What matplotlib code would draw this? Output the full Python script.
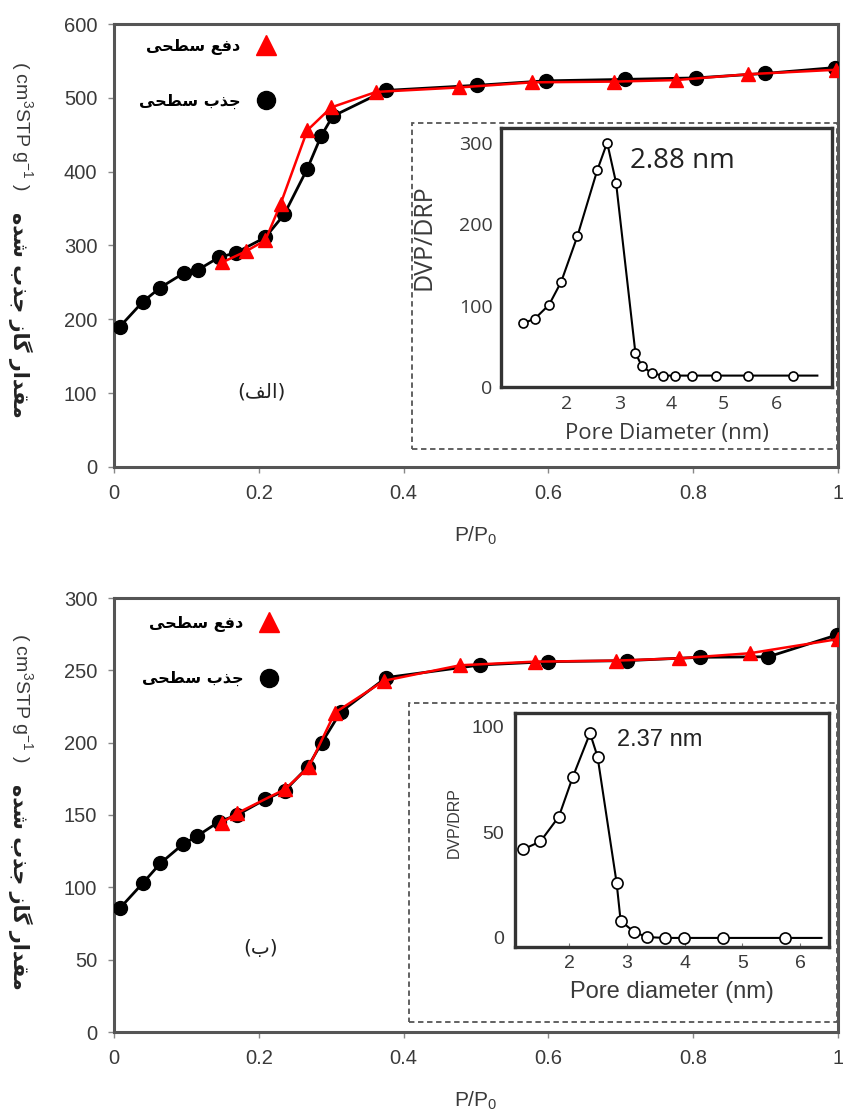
import matplotlib
matplotlib.use("Agg")
import matplotlib.pyplot as plt
from matplotlib.lines import Line2D
from matplotlib.patches import Rectangle

# ---------------- data ----------------
top_ads_x = [0.008, 0.04, 0.064, 0.097, 0.116, 0.145, 0.168, 0.209, 0.235, 0.267, 0.286, 0.302,
             0.375, 0.502, 0.596, 0.706, 0.804, 0.899, 0.996]
top_ads_y = [190, 224, 243, 263, 267, 284, 290, 311, 342, 404, 448, 475,
             510, 517, 523, 525, 527, 533, 541]
top_des_x = [0.149, 0.182, 0.209, 0.23, 0.267, 0.30, 0.362, 0.476, 0.578, 0.691, 0.776, 0.876, 0.997]
top_des_y = [277, 292, 307, 356, 456, 487, 508, 514, 521, 522, 524, 532, 538]

bot_ads_x = [0.008, 0.04, 0.064, 0.095, 0.115, 0.145, 0.17, 0.209, 0.236, 0.268, 0.287, 0.313,
             0.376, 0.506, 0.6, 0.708, 0.809, 0.904, 0.998]
bot_ads_y = [85.5, 103, 116.6, 129.7, 135.5, 145.4, 150, 160.8, 166.8, 183.4, 200, 221.2,
             245, 253.7, 256, 256.7, 259, 259.4, 274.4]
bot_des_x = [0.149, 0.17, 0.236, 0.269, 0.305, 0.373, 0.478, 0.581, 0.693, 0.781, 0.878, 1.0]
bot_des_y = [144.7, 151.2, 167.8, 183, 220.7, 242.8, 253.5, 256, 256.7, 258.3, 261.8, 271.6]

psd1_x = [1.16, 1.39, 1.66, 1.89, 2.20, 2.58, 2.77, 2.94, 3.31, 3.43, 3.62, 3.84, 4.07, 4.39,
          4.85, 5.47, 6.33, 6.79]
psd1_y = [78, 84, 101, 129, 185, 266, 300, 251, 42, 26, 17, 14, 14, 14, 14, 14, 14, 14]
psd2_x = [1.20, 1.50, 1.82, 2.06, 2.36, 2.49, 2.82, 2.89, 3.13, 3.35, 3.66, 3.99, 4.66, 5.74, 6.37]
psd2_y = [42, 45.7, 57.5, 76.2, 97, 85.9, 26.2, 8.1, 2.7, 0.4, 0, 0, 0, 0, 0]

top_yticks = [0, 100, 200, 300, 400, 500, 600]
bot_yticks = [0, 50, 100, 150, 200, 250, 300]
main_xticks = [0, 0.2, 0.4, 0.6, 0.8, 1.0]
main_xticklabels = ["0", "0.2", "0.4", "0.6", "0.8", "1"]
psd1_yticks = [0, 100, 200, 300]
psd2_yticks = [0, 50, 100]
psd_xticks = [2, 3, 4, 5, 6]

lbl_des = "دفع سطحی"
lbl_ads = "جذب سطحی"
ylab_fa = "مقدار گاز جذب شده"
panel_a = "(الف)"
panel_b = "(ب)"
peak1 = "2.88 nm"
peak2 = "2.37 nm"

# ---------------- minimal Persian shaping (presentation forms, visual order) ----------------
FORMS = {
    'ا': ('\uFE8D', '\uFE8E', None, None),
    'ب': ('\uFE8F', '\uFE90', '\uFE91', '\uFE92'),
    'ج': ('\uFE9D', '\uFE9E', '\uFE9F', '\uFEA0'),
    'ح': ('\uFEA1', '\uFEA2', '\uFEA3', '\uFEA4'),
    'د': ('\uFEA9', '\uFEAA', None, None),
    'ذ': ('\uFEAB', '\uFEAC', None, None),
    'ر': ('\uFEAD', '\uFEAE', None, None),
    'ز': ('\uFEAF', '\uFEB0', None, None),
    'س': ('\uFEB1', '\uFEB2', '\uFEB3', '\uFEB4'),
    'ش': ('\uFEB5', '\uFEB6', '\uFEB7', '\uFEB8'),
    'ط': ('\uFEC1', '\uFEC2', '\uFEC3', '\uFEC4'),
    'ع': ('\uFEC9', '\uFECA', '\uFECB', '\uFECC'),
    'ف': ('\uFED1', '\uFED2', '\uFED3', '\uFED4'),
    'ق': ('\uFED5', '\uFED6', '\uFED7', '\uFED8'),
    'ل': ('\uFEDD', '\uFEDE', '\uFEDF', '\uFEE0'),
    'م': ('\uFEE1', '\uFEE2', '\uFEE3', '\uFEE4'),
    'ه': ('\uFEE9', '\uFEEA', '\uFEEB', '\uFEEC'),
    'ی': ('\uFEEF', '\uFEF0', '\uFEF3', '\uFEF4'),
    'گ': ('\uFB92', '\uFB93', '\uFB94', '\uFB95'),
}
MIRROR = {'(': ')', ')': '('}


def shape(s):
    out = []
    for i, c in enumerate(s):
        if c not in FORMS:
            out.append(MIRROR.get(c, c))
            continue
        f = FORMS[c]
        prev = s[i - 1] if i > 0 else None
        nxt = s[i + 1] if i + 1 < len(s) else None
        jp = prev in FORMS and FORMS[prev][2] is not None
        jn = nxt in FORMS and f[2] is not None
        if jp and jn:
            g = f[3]
        elif jp:
            g = f[1]
        elif jn:
            g = f[2]
        else:
            g = f[0]
        out.append(g)
    return ''.join(reversed(out))


# ---------------- figure ----------------
plt.rcParams['font.family'] = ['Liberation Sans', 'DejaVu Sans']
plt.rcParams['mathtext.fontset'] = 'custom'
plt.rcParams['mathtext.rm'] = 'Liberation Sans'
plt.rcParams['mathtext.it'] = 'Liberation Sans:italic'

W, H = 843, 1110
fig = plt.figure(figsize=(W / 100, H / 100), dpi=100)


def px_axes(l, t, r, b):
    return fig.add_axes([l / W, 1 - b / H, (r - l) / W, (b - t) / H])


def dashed_box(l, t, r, b):
    fig.patches.append(Rectangle((l / W, 1 - b / H), (r - l) / W, (b - t) / H,
                                 transform=fig.transFigure, fill=False,
                                 ls=(0, (3, 2)), ec='#555555', lw=1.3, zorder=5))


TXT = '#3a3a3a'
FA = ['DejaVu Sans']


def main_panel(ax, ax_x, ax_y, de_x, de_y, yticks, ymax, panel_txt, panel_xy, leg_anchor):
    ax.plot(ax_x, ax_y, '-o', color='black', lw=2.0, ms=10, zorder=3)
    ax.plot(de_x, de_y, '-^', color='#ff0000', mec='#ff0000', lw=1.8, ms=10.5, zorder=4)
    ax.set_xlim(0, 1)
    ax.set_ylim(0, ymax)
    ax.set_xticks(main_xticks)
    ax.set_xticklabels(main_xticklabels)
    ax.set_yticks(yticks)
    for sp in ax.spines.values():
        sp.set_color('#555555')
        sp.set_linewidth(2.2)
    ax.tick_params(direction='out', length=4, width=1, color='#888888', labelsize=14.5,
                   labelcolor=TXT, pad=8)
    ax.set_xlabel('P/P$_0$', fontsize=15, color=TXT, labelpad=16)
    ax.text(panel_xy[0], panel_xy[1], shape(panel_txt), fontsize=14.5, family=FA,
            ha='center', va='center', color='#222222')
    handles = [Line2D([], [], ls='none', marker='^', color='#ff0000', ms=14),
               Line2D([], [], ls='none', marker='o', color='black', ms=13)]
    ax.legend(handles, [shape(lbl_des), shape(lbl_ads)], loc='upper right',
              bbox_to_anchor=leg_anchor, frameon=False, markerfirst=False,
              prop={'family': FA, 'size': 11.5, 'weight': 'bold'},
              labelspacing=2.45, handlelength=1.0, handletextpad=1.1, borderpad=0)


# top main
ax1 = px_axes(114, 24, 838, 467)
main_panel(ax1, top_ads_x, top_ads_y, top_des_x, top_des_y, top_yticks, 600,
           panel_a, (0.204, 102), (0.232, 0.985))
# bottom main
ax2 = px_axes(114, 598, 838, 1032)
main_panel(ax2, bot_ads_x, bot_ads_y, bot_des_x, bot_des_y, bot_yticks, 300,
           panel_b, (0.203, 58), (0.236, 0.977))

# y labels (rotated, reading top to bottom)
for (y_en, y_fa) in [(126, 315), (698, 887)]:
    fig.text(22 / W, 1 - y_en / H, '( cm$^3$STP g$^{-1}$ )', rotation=270, fontsize=14,
             ha='center', va='center', color=TXT)
    fig.text(20 / W, 1 - y_fa / H, shape(ylab_fa), rotation=270, fontsize=15,
             family=FA, weight='bold', ha='center', va='center', color='#222222')

# ---------------- inset 1 ----------------
dashed_box(412, 123, 837, 449)
in1 = px_axes(501, 128, 832, 387)
in1.plot(psd1_x, psd1_y, '-o', color='black', lw=1.5, ms=6.5, mfc='white', mec='black',
         mew=1.2, markevery=list(range(len(psd1_x) - 1)))
in1.set_xlim(0.74, 7.07)
in1.set_ylim(0, 318)
in1.set_xticks(psd_xticks)
in1.set_yticks(psd1_yticks)
for sp in in1.spines.values():
    sp.set_color('#333333')
    sp.set_linewidth(2.4)
in1.tick_params(length=0, labelsize=14, labelcolor=TXT, pad=6)
for t in in1.get_xticklabels() + in1.get_yticklabels():
    t.set_family('Open Sans')
in1.set_ylabel('DVP/DRP', fontsize=18, family='Open Sans', color=TXT)
in1.yaxis.set_label_coords(-0.195, 0.58)
in1.set_xlabel('Pore Diameter (nm)', fontsize=16, family='Open Sans', color=TXT, labelpad=7)
in1.text(3.2, 277, peak1, fontsize=20, family='Open Sans', color='#222222',
         ha='left', va='center')

# ---------------- inset 2 ----------------
dashed_box(409, 703, 837, 1022)
in2 = px_axes(515, 713, 829, 947)
in2.plot(psd2_x, psd2_y, '-o', color='black', lw=1.5, ms=8, mfc='white', mec='black',
         mew=1.2, markevery=list(range(len(psd2_x) - 1)))
in2.set_xlim(1.06, 6.5)
in2.set_ylim(-4.3, 106.6)
in2.set_xticks(psd_xticks)
in2.set_yticks(psd2_yticks)
for sp in in2.spines.values():
    sp.set_color('#333333')
    sp.set_linewidth(2.4)
in2.tick_params(axis='x', direction='in', length=3, color='#777777', labelsize=14,
                labelcolor=TXT, pad=6)
in2.tick_params(axis='y', length=0, labelsize=14, labelcolor=TXT, pad=8)
in2.set_ylabel('DVP/DRP', fontsize=11.5, color=TXT)
in2.yaxis.set_label_coords(-0.17, 0.53)
in2.set_xlabel('Pore diameter (nm)', fontsize=17, color=TXT, labelpad=6)
in2.text(2.82, 94, peak2, fontsize=17, color='#222222', ha='left', va='center')

fig.savefig('out.png', dpi=100, facecolor='white')
